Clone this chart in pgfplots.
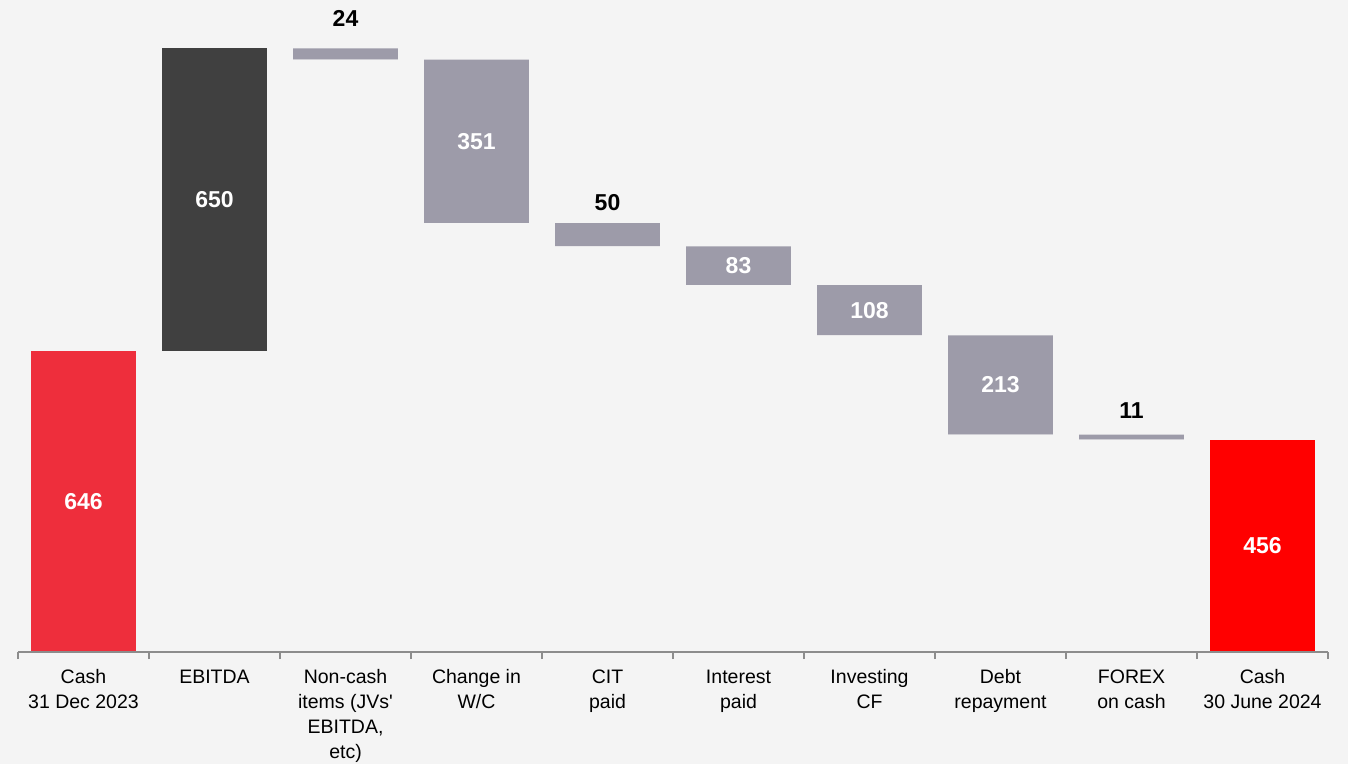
\documentclass[border=0pt]{standalone}
\usepackage{pgfplots}
\pgfplotsset{compat=1.18}
\usepackage{fontspec}
\setmainfont{Liberation Sans}
\definecolor{bg}{HTML}{F4F4F4}
\definecolor{cashred}{HTML}{EE2E3C}
\definecolor{ebitda}{HTML}{404040}
\definecolor{flow}{HTML}{9D9BA9}
\definecolor{endred}{HTML}{FF0000}
\definecolor{axisgray}{HTML}{8C8C8C}
\pgfplotsset{frame/.style={at={(0,0)}, anchor=south west,
  scale only axis, width=655pt, height=326pt,
  xmin=-0.5, xmax=9.5, ymin=0, ymax=1400, clip=false}}
\begin{document}
\begin{tikzpicture}
% page background; the axis box starts at (0,0)
\fill[bg] (-9pt,-56pt) rectangle (665pt,326pt);
\begin{axis}[
  frame, set layers, axis on top,
  ybar stacked, bar width=0.8,
  axis x line*=bottom, axis y line=none,
  axis line style={axisgray, line width=0.7pt},
  xtick={0,...,9}, major x tick style={draw=none},
  minor xtick={-0.5,0.5,...,9.5},
  minor x tick style={axisgray, line width=0.7pt},
  minor tick length=3.5pt, tick align=outside,
  xticklabels={Cash\\31 Dec 2023, EBITDA, {Non-cash\\items (JVs\textquotesingle\\EBITDA,\\etc)}, Change in\\W/C, CIT\\paid, Interest\\paid, Investing\\CF, Debt\\repayment, FOREX\\on cash, Cash\\30 June 2024},
  xticklabel style={align=center, font=\fontsize{9.75}{12.5}\selectfont, yshift=-1pt},
]
% base of each floating bar, in the background colour
\addplot[draw=none, fill=bg] coordinates {(0,0) (1,646) (2,1272) (3,921) (4,871) (5,788) (6,680) (7,467) (8,456) (9,0)};
\addplot[draw=none, fill=cashred] coordinates {(0,646) (1,0) (2,0) (3,0) (4,0) (5,0) (6,0) (7,0) (8,0) (9,0)};
\addplot[draw=none, fill=ebitda] coordinates {(0,0) (1,650) (2,0) (3,0) (4,0) (5,0) (6,0) (7,0) (8,0) (9,0)};
\addplot[draw=none, fill=flow] coordinates {(0,0) (1,0) (2,24) (3,351) (4,50) (5,83) (6,108) (7,213) (8,11) (9,0)};
\addplot[draw=none, fill=endred] coordinates {(0,0) (1,0) (2,0) (3,0) (4,0) (5,0) (6,0) (7,0) (8,0) (9,456)};
\end{axis}
% value labels in an overlaid axis, so they sit on top of the bars
\begin{axis}[frame, hide axis,
  nodes near coords, point meta=explicit symbolic,
  every node near coord/.append style={font=\fontsize{11.5}{13}\selectfont\bfseries}]
\addplot[draw=none, mark=none, nodes near coords align={center},
  every node near coord/.append style={text=white}]
  coordinates {(0,323)[646] (1,971)[650] (3,1096.5)[351] (5,829.5)[83] (6,734)[108] (7,573.5)[213] (9,228)[456]};
\addplot[draw=none, mark=none,
  every node near coord/.append style={text=black, anchor=south, inner sep=0pt}]
  coordinates {(2,1343)[24] (4,947)[50] (8,501)[11]};
\end{axis}
\end{tikzpicture}
\end{document}
